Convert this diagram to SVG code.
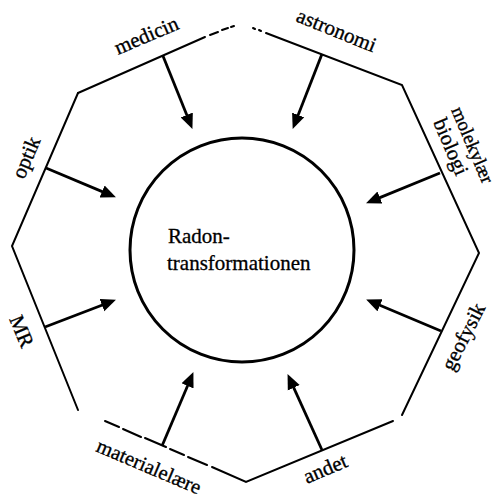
<svg xmlns="http://www.w3.org/2000/svg" width="501" height="499" viewBox="0 0 501 499">
<style>
.frame{fill:none;stroke:#000;stroke-width:2;stroke-linecap:round}
.conn{fill:none;stroke:#000;stroke-width:2.8;marker-end:url(#ah)}
.lbl{font-family:"Liberation Serif","Times New Roman",serif;font-size:21px;fill:#000;stroke:#000;stroke-width:0.35}
.ctr{font-family:"Liberation Serif","Times New Roman",serif;font-size:21px;fill:#000;stroke:#000;stroke-width:0.3}
</style>
<defs>
<marker id="ah" markerUnits="userSpaceOnUse" markerWidth="16" markerHeight="14" refX="4" refY="7" orient="auto">
<path d="M0,0.5 L15,7 L0,13.5 z" fill="#000"/>
</marker>
</defs>
<rect width="501" height="499" fill="#fff"/>
<g id="frame">
<path class="frame" d="M78,93 L205,37"/>
<path class="frame" d="M210,35 L218,32 M222,30 L228,28 M231,27 L234,26" stroke-width="1.5"/>
<path class="frame" d="M253,28 L255,29 M259,30 L261,31" stroke-width="1.5"/>
<path class="frame" d="M266,33 L402,85 L479,253 L402,415"/>
<path class="frame" d="M393,421 L246,482 L212,467"/>
<path class="frame" d="M207,465 L188,457 M184,455 L170,449 M166,447 L145,438 M141,437 L123,429 M119,427 L105,421"/>
<path class="frame" d="M78,410 L12,246 L78,93"/>
</g>
<g id="center">
<circle cx="242" cy="250" r="112" fill="none" stroke="#000" stroke-width="3"/>
<text class="ctr" x="168" y="243">Radon-</text>
<text class="ctr" x="167" y="270">transformationen</text>
</g>
<g id="medicin"><text class="lbl" transform="translate(118,55) rotate(-23)">medicin</text></g>
<g id="astronomi"><text class="lbl" transform="translate(295,21) rotate(22)">astronomi</text></g>
<g id="molekylaer-biologi">
<text class="lbl" style="font-size:19px" transform="translate(451,110) rotate(67)">molekylær</text>
<text class="lbl" transform="translate(433,122) rotate(67)">biologi</text>
</g>
<g id="geofysik"><text class="lbl" transform="translate(453,372) rotate(-63)">geofysik</text></g>
<g id="andet"><text class="lbl" transform="translate(307,484) rotate(-23)">andet</text></g>
<g id="materialelaere"><text class="lbl" style="font-size:20.5px" transform="translate(95,451) rotate(23)">materialelære</text></g>
<g id="MR"><text class="lbl" transform="translate(9,319) rotate(67)">MR</text></g>
<g id="optik"><text class="lbl" transform="translate(24,180) rotate(-67)">optik</text></g>
<g id="connectors">
<line class="conn" x1="163" y1="56" x2="188.3" y2="118.7"/>
<line class="conn" x1="322" y1="54" x2="296.7" y2="118.7"/>
<line class="conn" x1="440" y1="173" x2="376.2" y2="199.1"/>
<line class="conn" x1="441" y1="331" x2="376.3" y2="303.8"/>
<line class="conn" x1="322" y1="450" x2="292.1" y2="384.1"/>
<line class="conn" x1="162" y1="446" x2="189.1" y2="382.2"/>
<line class="conn" x1="45" y1="327" x2="105.7" y2="303.7"/>
<line class="conn" x1="46" y1="168" x2="105.8" y2="193.1"/>
</g>
</svg>
